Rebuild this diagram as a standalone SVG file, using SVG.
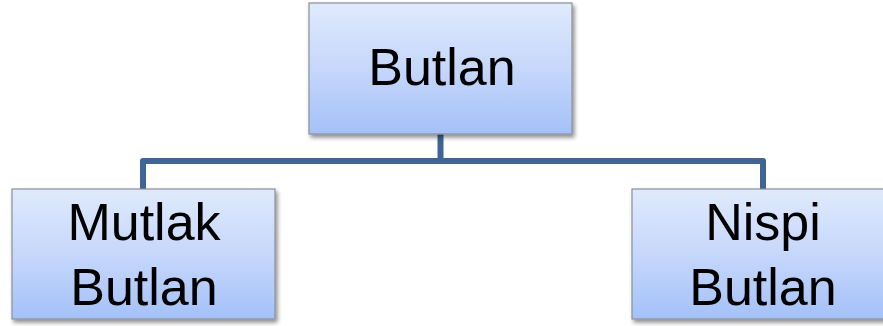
<svg xmlns="http://www.w3.org/2000/svg" width="883" height="326" viewBox="0 0 883 326">
<defs>
<linearGradient id="g" x1="0" y1="0" x2="0" y2="1">
<stop offset="0" stop-color="#e0eafc"/>
<stop offset="0.5" stop-color="#c6d7fb"/>
<stop offset="1" stop-color="#a4c1f8"/>
</linearGradient>
<filter id="sh" x="-10%" y="-10%" width="125%" height="130%">
<feGaussianBlur in="SourceAlpha" stdDeviation="2"/>
<feOffset dx="2" dy="3" result="b"/>
<feComponentTransfer><feFuncA type="linear" slope="0.45"/></feComponentTransfer>
<feMerge><feMergeNode/><feMergeNode in="SourceGraphic"/></feMerge>
</filter>
</defs>
<style>
.box{fill:url(#g);stroke:#8a8f98;stroke-width:1.2;filter:url(#sh)}
.t{font-family:"Liberation Sans",Arial,sans-serif;font-size:52px;fill:#000;text-anchor:middle}
.c{fill:none;stroke:#3e6595;stroke-width:6;stroke-linejoin:round}
</style>
<rect width="883" height="326" fill="#fff"/>
<g id="connectors">
<path class="c" d="M440.5 134 V161 M143 189 V161 H763 V189"/>
</g>
<g id="butlan">
<rect class="box" x="309" y="3" width="263" height="131"/>
<text class="t" x="442" y="85">Butlan</text>
</g>
<g id="mutlak-butlan">
<rect class="box" x="12" y="189" width="263" height="130"/>
<text class="t" x="144" y="240">Mutlak</text>
<text class="t" x="144" y="305">Butlan</text>
</g>
<g id="nispi-butlan">
<rect class="box" x="632" y="189" width="263" height="130"/>
<text class="t" x="763" y="240">Nispi</text>
<text class="t" x="763" y="305">Butlan</text>
</g>
</svg>
